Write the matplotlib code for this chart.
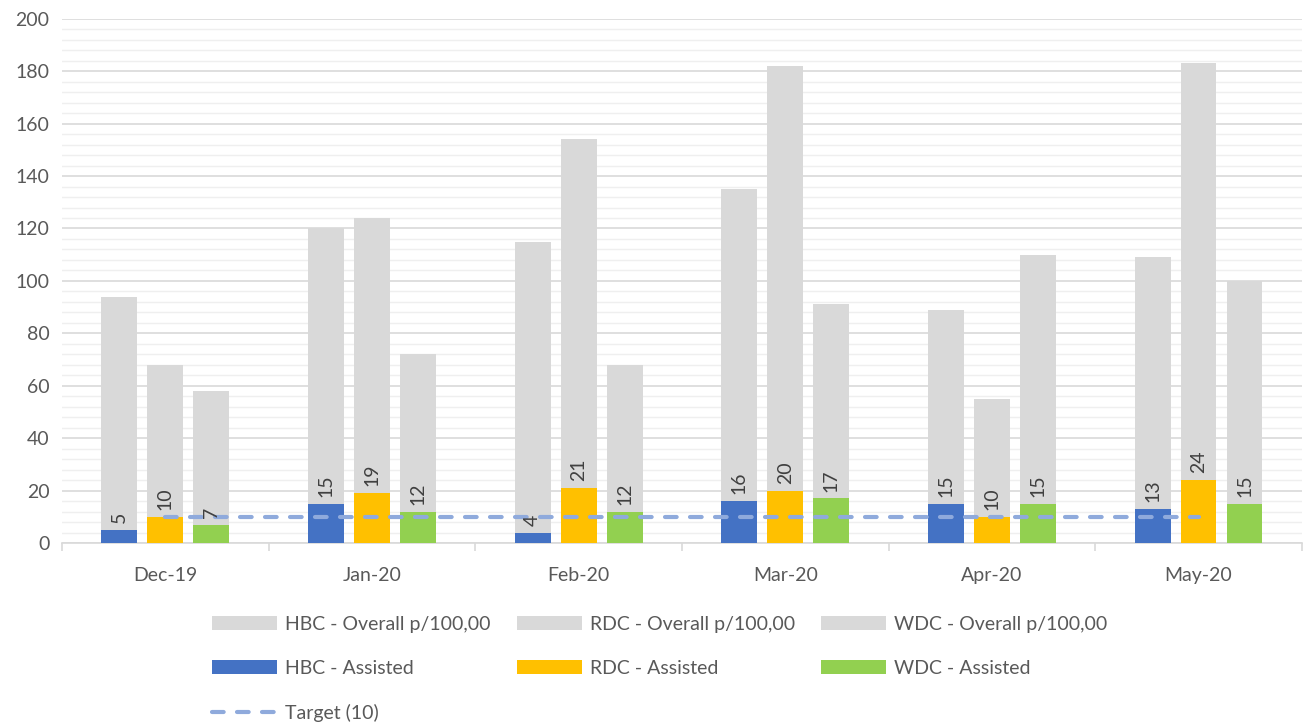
import numpy as np
import matplotlib.pyplot as plt
from matplotlib.ticker import MultipleLocator, FixedLocator

plt.rcParams['font.family'] = ['Lato', 'DejaVu Sans']

# chart data
months = ['Dec-19', 'Jan-20', 'Feb-20', 'Mar-20', 'Apr-20', 'May-20']
hbc_overall = [94, 120, 115, 135, 89, 109]
rdc_overall = [68, 124, 154, 182, 55, 183]
wdc_overall = [58, 72, 68, 91, 110, 100]
hbc_assisted = [5, 15, 4, 16, 15, 13]
rdc_assisted = [10, 19, 21, 20, 10, 24]
wdc_assisted = [7, 12, 12, 17, 15, 15]
target = [10, 10, 10, 10, 10, 10]

grey = '#d9d9d9'
text_col = '#595959'

fig = plt.figure(figsize=(13.11, 7.24), dpi=100)
ax = fig.add_axes([0.0473, 0.25, 0.9457, 0.724])

x = np.arange(len(months))
step = 0.2225
width = 0.174

# overall bars (grey, behind)
oh = ax.bar(x - step, hbc_overall, width, color=grey, zorder=2, label='HBC - Overall p/100,00')
orr = ax.bar(x, rdc_overall, width, color=grey, zorder=2, label='RDC - Overall p/100,00')
ow = ax.bar(x + step, wdc_overall, width, color=grey, zorder=2, label='WDC - Overall p/100,00')

# assisted bars
ah = ax.bar(x - step, hbc_assisted, width, color='#4472c4', zorder=3, label='HBC - Assisted')
ar = ax.bar(x, rdc_assisted, width, color='#ffc000', zorder=3, label='RDC - Assisted')
aw = ax.bar(x + step, wdc_assisted, width, color='#92d050', zorder=3, label='WDC - Assisted')

for bars in (ah, ar, aw):
    ax.bar_label(bars, padding=5, rotation=90, fontsize=14, color='#404040', zorder=5)

tl, = ax.plot(x, target, color='#8faadc', lw=3, linestyle=(0, (2.8, 3.2)),
              dash_capstyle='round', zorder=4, label='Target (10)')

ax.set_xlim(-0.5, len(months) - 0.5)
ax.set_ylim(0, 200)
ax.yaxis.set_major_locator(MultipleLocator(20))
ax.yaxis.set_minor_locator(MultipleLocator(4))
ax.grid(which='major', axis='y', color=grey, lw=1.2, zorder=0)
ax.grid(which='minor', axis='y', color='#efefef', lw=1.0, zorder=0)
ax.set_axisbelow(True)

ax.set_xticks(x)
ax.set_xticklabels(months)
ax.xaxis.set_minor_locator(FixedLocator(np.arange(-0.5, len(months), 1.0)))
ax.tick_params(axis='x', which='major', length=0, pad=17, labelsize=14, labelcolor=text_col)
ax.tick_params(axis='x', which='minor', length=6, color=grey, width=1.2)
ax.tick_params(axis='y', which='both', length=0, pad=9, labelsize=14, labelcolor=text_col)

for s in ('top', 'right', 'left'):
    ax.spines[s].set_visible(False)
ax.spines['bottom'].set_color(grey)
ax.spines['bottom'].set_linewidth(1.2)

handles = [oh, ah, tl, orr, ar, ow, aw]
labels = [h.get_label() for h in handles]
fig.legend(handles, labels, ncol=3, loc='upper left', bbox_to_anchor=(0.1485, 0.174),
           frameon=False, fontsize=14, labelcolor=text_col, handlelength=3.35,
           handleheight=0.7, handletextpad=0.4, columnspacing=1.35, labelspacing=1.4)

fig.savefig('out.png', dpi=100)
